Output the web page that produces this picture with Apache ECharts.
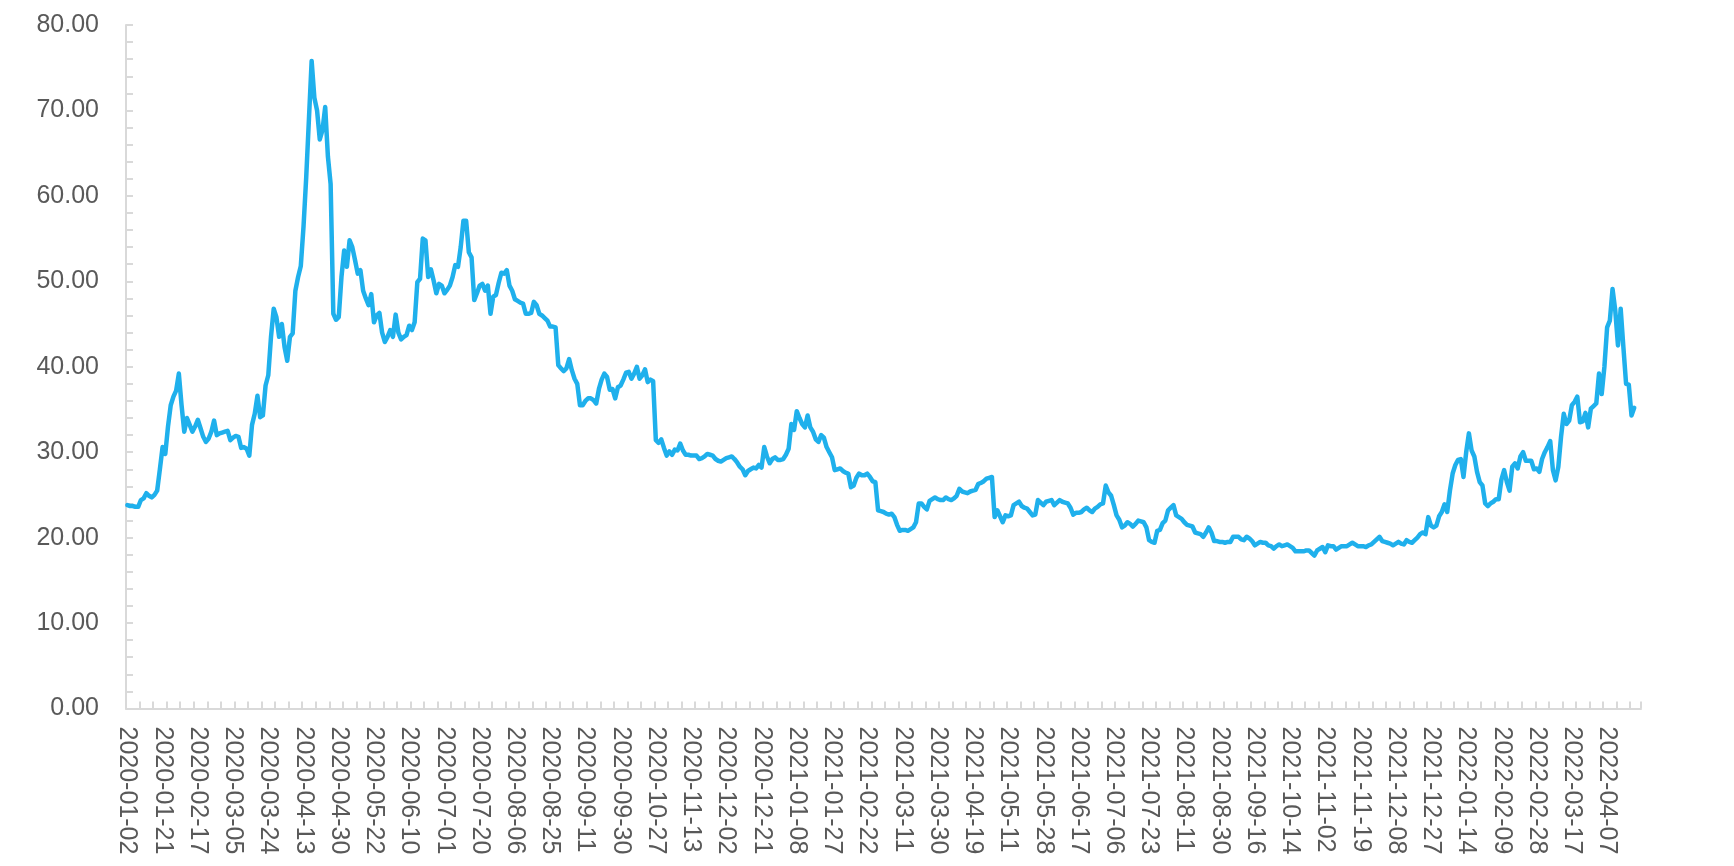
<!DOCTYPE html>
<html>
<head>
<meta charset="utf-8">
<script src="https://cdn.jsdelivr.net/npm/echarts@6/dist/echarts.min.js"></script>
<style>
  html, body { margin: 0; padding: 0; background: #ffffff; }
  #chart { width: 1734px; height: 866px; }
</style>
</head>
<body>
<div id="chart"></div>
<script>
// Trading calendar: first/last day and exchange holidays on weekdays
const startDate = '2020-01-02';
const endDate = '2022-04-25';
const holidays = [
  '2020-01-01','2020-01-24','2020-01-27','2020-01-28','2020-01-29','2020-01-30','2020-01-31',
  '2020-04-06','2020-05-01','2020-05-04','2020-05-05','2020-06-25','2020-06-26',
  '2020-10-01','2020-10-02','2020-10-05','2020-10-06','2020-10-07','2020-10-08',
  '2021-01-01','2021-02-11','2021-02-12','2021-02-15','2021-02-16','2021-02-17',
  '2021-04-05','2021-05-03','2021-05-04','2021-05-05','2021-06-14','2021-09-20','2021-09-21',
  '2021-10-01','2021-10-04','2021-10-05','2021-10-06','2021-10-07',
  '2022-01-03','2022-01-31','2022-02-01','2022-02-02','2022-02-03','2022-02-04',
  '2022-04-04','2022-04-05'
];

// Series values (one per trading day)
const values = [
23.8,23.7,23.7,23.6,23.6,24.4,24.6,25.2,24.9,24.7,
25.0,25.5,28.0,30.6,29.8,33.0,35.5,36.5,37.2,39.2,
35.5,32.4,34.0,33.2,32.4,33.0,33.8,32.8,31.8,31.2,
31.6,32.4,33.7,32.0,32.2,32.3,32.4,32.5,31.4,31.7,
31.9,31.8,30.5,30.6,30.4,29.6,33.2,34.5,36.6,34.1,
34.3,37.8,39.0,43.5,46.8,45.8,43.5,45.0,42.3,40.7,
43.5,43.9,48.9,50.5,51.8,56.4,62.2,69.0,75.8,71.5,
70.0,66.6,67.7,70.4,64.6,61.4,46.2,45.5,45.8,50.5,
53.6,51.7,54.8,54.0,52.5,50.9,51.3,48.9,48.0,47.2,
48.5,45.2,46.0,46.3,44.0,42.9,43.5,44.3,43.5,46.1,
44.0,43.2,43.5,43.7,44.8,44.3,45.2,49.9,50.3,55.0,
54.8,50.5,51.4,50.1,48.6,49.7,49.5,48.6,49.0,49.5,
50.5,51.9,51.7,54.0,57.1,57.1,53.4,52.8,47.8,48.6,
49.5,49.7,48.9,49.5,46.2,48.2,48.4,49.8,51.0,50.9,
51.3,49.5,48.9,47.9,47.7,47.5,47.4,46.2,46.2,46.3,
47.6,47.2,46.2,46.0,45.7,45.4,44.7,44.7,44.6,40.2,
39.8,39.5,39.8,40.9,39.6,38.6,38.0,35.5,35.5,36.0,
36.3,36.3,36.1,35.7,37.4,38.5,39.2,38.8,37.3,37.4,
36.3,37.6,37.8,38.5,39.3,39.4,38.6,39.2,40.0,38.6,
39.0,39.7,38.2,38.5,38.3,31.4,31.1,31.5,30.5,29.6,
30.1,29.7,30.3,30.2,31.0,30.2,29.7,29.7,29.6,29.6,
29.6,29.2,29.3,29.5,29.8,29.7,29.6,29.2,29.0,28.9,
29.1,29.3,29.4,29.5,29.2,28.8,28.3,28.0,27.3,27.8,
28.0,28.2,28.1,28.5,28.2,30.6,29.5,28.7,29.2,29.4,
29.1,29.1,29.2,29.7,30.4,33.3,32.6,34.8,34.0,33.3,
32.9,34.3,32.9,32.4,31.5,31.2,32.0,31.7,30.6,30.0,
29.4,27.9,28.0,28.1,27.8,27.6,27.5,25.9,26.1,27.0,
27.5,27.3,27.3,27.5,27.1,26.6,26.5,23.2,23.1,23.0,
22.8,22.7,22.8,22.4,21.5,20.8,20.9,20.9,20.8,21.0,
21.2,21.8,24.0,24.0,23.6,23.3,24.3,24.5,24.7,24.5,
24.4,24.4,24.7,24.5,24.4,24.6,24.9,25.7,25.4,25.3,
25.2,25.4,25.5,25.6,26.3,26.4,26.6,26.9,27.0,27.1,
22.4,23.2,22.5,21.8,22.6,22.5,22.6,23.8,24.0,24.2,
23.7,23.5,23.4,23.0,22.6,22.7,24.4,24.1,23.8,24.2,
24.3,24.4,23.8,24.1,24.4,24.2,24.1,24.0,23.5,22.7,
22.9,22.9,23.0,23.3,23.5,23.2,23.0,23.4,23.6,23.9,
24.0,26.1,25.3,24.9,23.8,22.6,22.1,21.2,21.4,21.8,
21.6,21.3,21.6,22.0,21.9,21.8,21.2,19.7,19.5,19.4,
20.8,20.9,21.7,22.0,23.2,23.5,23.8,22.6,22.4,22.2,
21.8,21.5,21.4,21.3,20.6,20.5,20.4,20.1,20.6,21.2,
20.6,19.6,19.6,19.5,19.5,19.4,19.5,19.5,20.1,20.1,
20.1,19.8,19.7,20.1,19.9,19.6,19.1,19.3,19.5,19.4,
19.4,19.1,19.0,18.7,19.0,19.2,19.0,19.1,19.2,19.0,
18.8,18.4,18.4,18.4,18.4,18.5,18.5,18.2,17.9,18.5,
18.7,18.9,18.3,19.1,19.0,19.0,18.6,18.8,19.0,19.0,
19.0,19.2,19.4,19.2,19.0,19.0,19.0,18.9,19.1,19.2,
19.5,19.8,20.1,19.6,19.5,19.4,19.3,19.1,19.3,19.5,
19.3,19.2,19.7,19.5,19.4,19.7,20.0,20.4,20.6,20.4,
22.4,21.4,21.2,21.4,22.5,23.0,23.9,23.0,25.5,27.5,
28.5,29.1,29.2,27.1,30.0,32.2,30.2,29.5,27.7,26.5,
26.1,24.0,23.7,24.0,24.2,24.5,24.5,26.8,27.9,26.5,
25.5,28.3,28.7,28.1,29.5,30.0,29.0,29.0,29.0,28.0,
28.1,27.7,29.2,30.0,30.6,31.3,27.9,26.7,28.3,31.8,
34.5,33.3,33.7,35.5,35.9,36.5,33.5,33.6,34.6,32.9,
35.1,35.4,35.7,39.2,36.8,40.0,44.6,45.4,49.1,46.6,
42.5,46.8,42.3,38.0,37.9,34.3,35.2
];

// Y-axis range and tick step
const yMin = 0;
const yMax = 80;
const yStep = 10;

// Build category list (trading days)
function pad(n) { return (n < 10 ? '0' : '') + n; }
const categories = [];
(function () {
  const hol = new Set(holidays);
  const d = new Date(startDate + 'T00:00:00Z');
  const end = new Date(endDate + 'T00:00:00Z');
  while (d <= end) {
    const wd = d.getUTCDay();
    const s = d.getUTCFullYear() + '-' + pad(d.getUTCMonth() + 1) + '-' + pad(d.getUTCDate());
    if (wd !== 0 && wd !== 6 && !hol.has(s)) categories.push(s);
    d.setUTCDate(d.getUTCDate() + 1);
  }
})();

const axisGrey = '#D9D9D9';
const textGrey = '#595959';
const fontFam = '"Liberation Sans", Arial, sans-serif';

const chart = echarts.init(document.getElementById('chart'), null, { renderer: 'canvas' });
chart.setOption({
  animation: false,
  backgroundColor: '#ffffff',
  grid: { left: 126, right: 93, top: 25, bottom: 157.5, containLabel: false },
  xAxis: {
    type: 'category',
    data: categories,
    boundaryGap: true,
    axisLine: { show: true, lineStyle: { color: axisGrey, width: 2 } },
    axisTick: { show: true, inside: true, length: 7, interval: 4, alignWithLabel: false,
                lineStyle: { color: axisGrey, width: 2 } },
    axisLabel: { show: true, interval: 12, rotate: -90, margin: 18, color: textGrey,
                 fontSize: 25, fontFamily: fontFam, hideOverlap: false },
    splitLine: { show: false }
  },
  yAxis: {
    type: 'value',
    min: yMin, max: yMax, interval: yStep,
    axisLine: { show: true, lineStyle: { color: axisGrey, width: 2 } },
    axisTick: { show: true, inside: true, length: 7, lineStyle: { color: axisGrey, width: 2 } },
    minorTick: { show: true, splitNumber: 5, length: 7, lineStyle: { color: axisGrey, width: 2 } },
    axisLabel: { show: true, margin: 27, color: textGrey, fontSize: 25, fontFamily: fontFam,
                 formatter: function (v) { return v.toFixed(2); } },
    splitLine: { show: false },
    minorSplitLine: { show: false }
  },
  series: [{
    type: 'line',
    data: values,
    showSymbol: false,
    symbol: 'none',
    smooth: false,
    lineStyle: { color: '#1FB0EC', width: 4.5, join: 'round', cap: 'round' },
    itemStyle: { color: '#1FB0EC' },
    emphasis: { disabled: true }
  }]
});
</script>
</body>
</html>
